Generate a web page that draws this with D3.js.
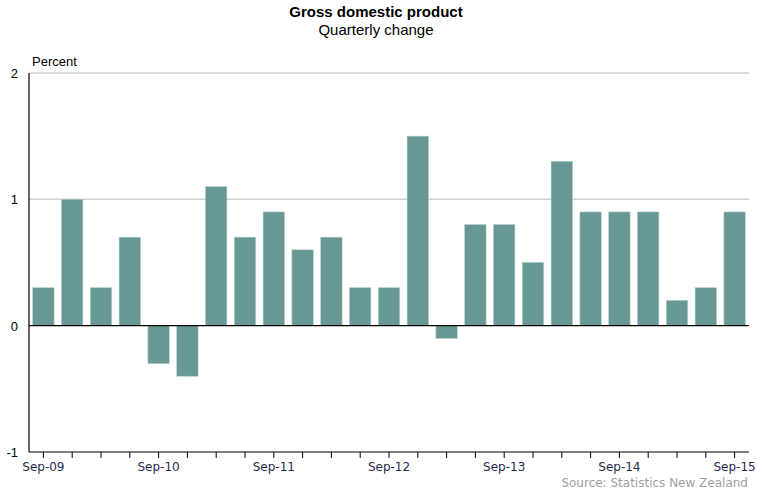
<!DOCTYPE html>
<html>
<head>
<meta charset="utf-8">
<title>Gross domestic product</title>
<script src="https://d3js.org/d3.v7.min.js"></script>
<style>
  body { margin: 0; background: #fff; }
  .title { font-family: "Liberation Sans Narrow", "Liberation Sans", Arial, sans-serif; font-size: 15px; font-weight: bold; fill: #000; }
  .subtitle { font-family: "Liberation Sans Narrow", "Liberation Sans", Arial, sans-serif; font-size: 15px; fill: #000; }
  .ylab { font-family: "Liberation Sans", Arial, sans-serif; font-size: 13px; fill: #000; }
  .xlab { font-family: "DejaVu Sans", Verdana, sans-serif; font-size: 12px; fill: #1f2a52; }
  .source { font-family: "DejaVu Sans", Verdana, sans-serif; font-size: 12px; fill: #a0a0a0; }
</style>
</head>
<body>
<script>
// quarterly change in GDP, Sep-09 .. Sep-15
var quarters = ["Sep-09","Dec-09","Mar-10","Jun-10","Sep-10","Dec-10","Mar-11","Jun-11",
                "Sep-11","Dec-11","Mar-12","Jun-12","Sep-12","Dec-12","Mar-13","Jun-13",
                "Sep-13","Dec-13","Mar-14","Jun-14","Sep-14","Dec-14","Mar-15","Jun-15","Sep-15"];
var values = [0.3, 1.0, 0.3, 0.7, -0.3, -0.4, 1.1, 0.7,
              0.9, 0.6, 0.7, 0.3, 0.3, 1.5, -0.1, 0.8,
              0.8, 0.5, 1.3, 0.9, 0.9, 0.9, 0.2, 0.3, 0.9];
var yTicks = [-1, 0, 1, 2];
var labelled = ["Sep-09","Sep-10","Sep-11","Sep-12","Sep-13","Sep-14","Sep-15"];

var width = 764, height = 497;
var plotLeft = 29, plotRight = 749, plotTop = 73, plotBottom = 452;

var svg = d3.select("body").append("svg")
    .attr("width", width)
    .attr("height", height);

var x = d3.scaleBand()
    .domain(quarters)
    .range([plotLeft, plotRight])
    .paddingInner(0.26)
    .paddingOuter(0.13);

var y = d3.scaleLinear()
    .domain([-1, 2])
    .range([plotBottom, plotTop]);

// gridlines
svg.append("g").selectAll("line")
    .data(yTicks.filter(function(d) { return d > 0; }))
    .enter().append("line")
    .attr("x1", plotLeft).attr("x2", plotRight)
    .attr("y1", function(d) { return y(d); })
    .attr("y2", function(d) { return y(d); })
    .attr("stroke", "#cfcfcf")
    .attr("stroke-width", 1.5);

// bars
svg.append("g").selectAll("rect")
    .data(values)
    .enter().append("rect")
    .attr("x", function(d, i) { return x(quarters[i]); })
    .attr("width", x.bandwidth())
    .attr("y", function(d) { return y(Math.max(0, d)); })
    .attr("height", function(d) { return Math.abs(y(d) - y(0)); })
    .attr("fill", "#679895")
    .attr("stroke", "#a8c7c4")
    .attr("stroke-width", 0.6);

// zero line
svg.append("line")
    .attr("x1", plotLeft).attr("x2", plotRight)
    .attr("y1", y(0)).attr("y2", y(0))
    .attr("stroke", "#000")
    .attr("stroke-width", 1.2);

// y axis line
svg.append("line")
    .attr("x1", plotLeft).attr("x2", plotLeft)
    .attr("y1", plotTop).attr("y2", plotBottom)
    .attr("stroke", "#000")
    .attr("stroke-width", 1.2);

// y tick labels
svg.append("g").selectAll("text")
    .data(yTicks)
    .enter().append("text")
    .attr("class", "ylab")
    .attr("x", 18)
    .attr("y", function(d) { return y(d) + 5; })
    .attr("text-anchor", "end")
    .text(function(d) { return d; });

svg.append("text")
    .attr("class", "ylab")
    .attr("x", 32).attr("y", 66)
    .text("Percent");

// x axis
var xAxis = svg.append("g")
    .attr("transform", "translate(0," + plotBottom + ")");
xAxis.append("line")
    .attr("x1", plotLeft).attr("x2", plotRight)
    .attr("stroke", "#000")
    .attr("stroke-width", 1.2);
xAxis.selectAll(".tick")
    .data(quarters)
    .enter().append("line")
    .attr("x1", function(d) { return x(d) + x.bandwidth() / 2; })
    .attr("x2", function(d) { return x(d) + x.bandwidth() / 2; })
    .attr("y1", 0).attr("y2", 6)
    .attr("stroke", "#000");
xAxis.selectAll("text")
    .data(labelled)
    .enter().append("text")
    .attr("class", "xlab")
    .attr("x", function(d) { return x(d) + x.bandwidth() / 2; })
    .attr("y", 19)
    .attr("text-anchor", "middle")
    .text(function(d) { return d; });

// titles
svg.append("text")
    .attr("class", "title")
    .attr("x", 376).attr("y", 17)
    .attr("text-anchor", "middle")
    .text("Gross domestic product");
svg.append("text")
    .attr("class", "subtitle")
    .attr("x", 376).attr("y", 35)
    .attr("text-anchor", "middle")
    .text("Quarterly change");

svg.append("text")
    .attr("class", "source")
    .attr("x", 748).attr("y", 487)
    .attr("text-anchor", "end")
    .text("Source: Statistics New Zealand");
</script>
</body>
</html>
